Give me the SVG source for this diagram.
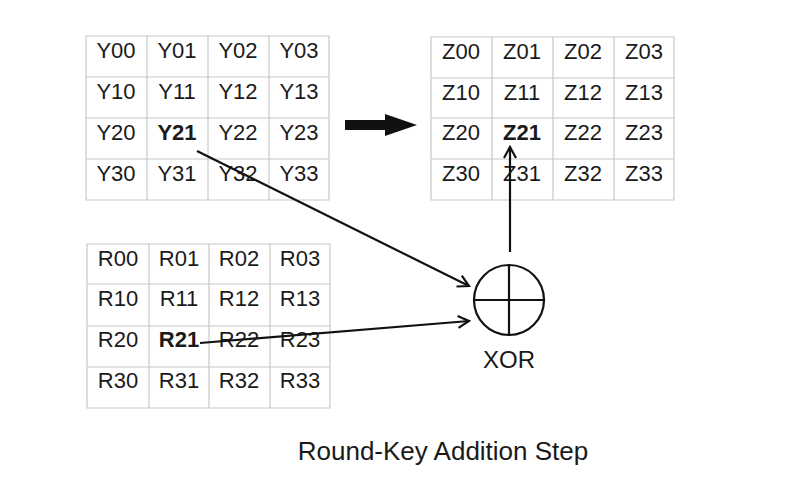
<svg xmlns="http://www.w3.org/2000/svg" width="800" height="500" viewBox="0 0 800 500">
<style>
.g{fill:none;stroke:#c8c8c8;stroke-width:1.2}
text{font-family:"Liberation Sans",Arial,sans-serif;fill:#1a1a1a}
.c{font-size:22px;text-anchor:middle}
.b{font-weight:bold}
.w{stroke:#111;stroke-width:2.2;fill:none}
</style>
<defs><marker id="ah" markerWidth="14" markerHeight="14" refX="12" refY="7" orient="auto" markerUnits="userSpaceOnUse"><path d="M1,1 L12,7 L1,13" fill="none" stroke="#111" stroke-width="2.2"/></marker></defs>
<rect width="800" height="500" fill="#fff"/>
<g id="Y">
<path class="g" d="M86,36H329V200H86Z M86,77H329 M86,118H329 M86,159H329 M147,36V200 M208,36V200 M269,36V200"/>
<text class="c" x="116" y="58">Y00</text><text class="c" x="177" y="58">Y01</text><text class="c" x="238" y="58">Y02</text><text class="c" x="299" y="58">Y03</text>
<text class="c" x="116" y="99">Y10</text><text class="c" x="177" y="99">Y11</text><text class="c" x="238" y="99">Y12</text><text class="c" x="299" y="99">Y13</text>
<text class="c" x="116" y="140">Y20</text><text class="c b" x="177" y="140">Y21</text><text class="c" x="238" y="140">Y22</text><text class="c" x="299" y="140">Y23</text>
<text class="c" x="116" y="181">Y30</text><text class="c" x="177" y="181">Y31</text><text class="c" x="238" y="181">Y32</text><text class="c" x="299" y="181">Y33</text>
</g>
<g id="Z">
<path class="g" d="M431,37H674V200H431Z M431,78H674 M431,118H674 M431,159H674 M492,37V200 M553,37V200 M614,37V200"/>
<text class="c" x="461" y="59">Z00</text><text class="c" x="522" y="59">Z01</text><text class="c" x="583" y="59">Z02</text><text class="c" x="644" y="59">Z03</text>
<text class="c" x="461" y="100">Z10</text><text class="c" x="522" y="100">Z11</text><text class="c" x="583" y="100">Z12</text><text class="c" x="644" y="100">Z13</text>
<text class="c" x="461" y="140">Z20</text><text class="c b" x="522" y="140">Z21</text><text class="c" x="583" y="140">Z22</text><text class="c" x="644" y="140">Z23</text>
<text class="c" x="461" y="181">Z30</text><text class="c" x="522" y="181">Z31</text><text class="c" x="583" y="181">Z32</text><text class="c" x="644" y="181">Z33</text>
</g>
<g id="R">
<path class="g" d="M87,244H330V408H87Z M87,284H330 M87,326H330 M87,367H330 M149,244V408 M209,244V408 M270,244V408"/>
<text class="c" x="118" y="266">R00</text><text class="c" x="179" y="266">R01</text><text class="c" x="239" y="266">R02</text><text class="c" x="300" y="266">R03</text>
<text class="c" x="118" y="306">R10</text><text class="c" x="179" y="306">R11</text><text class="c" x="239" y="306">R12</text><text class="c" x="300" y="306">R13</text>
<text class="c" x="118" y="347">R20</text><text class="c b" x="179" y="347">R21</text><text class="c" x="239" y="347">R22</text><text class="c" x="300" y="347">R23</text>
<text class="c" x="118" y="388">R30</text><text class="c" x="179" y="388">R31</text><text class="c" x="239" y="388">R32</text><text class="c" x="300" y="388">R33</text>
</g>
<g id="xor">
<circle class="w" cx="509" cy="300" r="35"/>
<path class="w" d="M474,300H544 M509,265V335"/>
<text x="509" y="368" font-size="24" text-anchor="middle">XOR</text>
</g>
<g id="connectors">
<path class="w" d="M197,151L469,286" marker-end="url(#ah)"/>
<path class="w" d="M200,343L469,321" marker-end="url(#ah)"/>
<path class="w" d="M510,252V147" marker-end="url(#ah)"/>
<path d="M345,120H385V114L417,125L385,136V130H345Z" fill="#111"/>
</g>
<text x="443" y="460" font-size="26" text-anchor="middle">Round-Key Addition Step</text>
</svg>
